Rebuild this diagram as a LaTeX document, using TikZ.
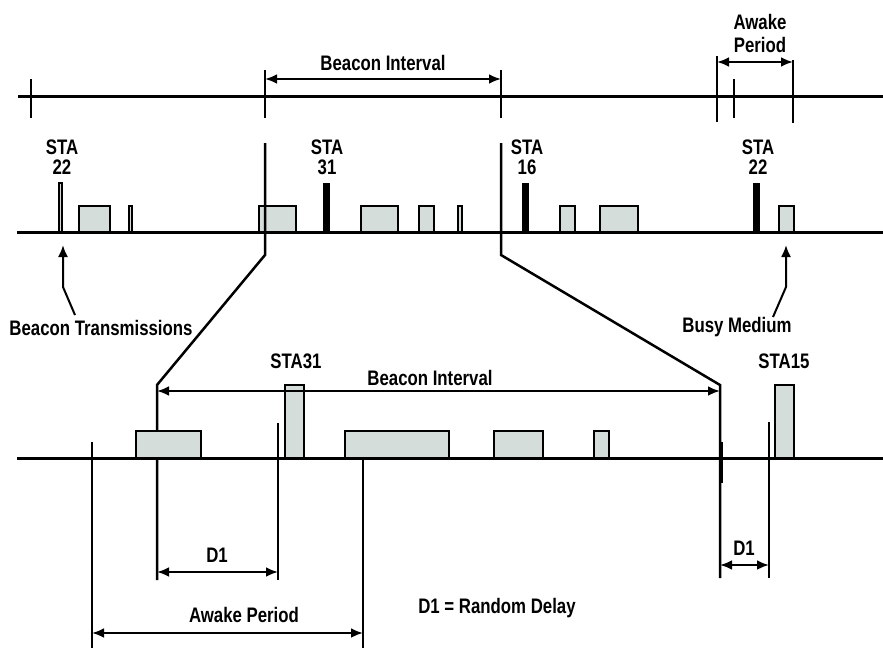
\documentclass[tikz,border=0pt]{standalone}
\usepackage{fontspec}
\setmainfont{Liberation Sans}
\usetikzlibrary{arrows.meta}
\definecolor{pktfill}{RGB}{213,221,219}

\tikzset{
  tline/.style={line width=3pt},
  vline/.style={line width=2pt},
  pkt/.style={draw, line width=2pt, fill=pktfill},
  dimline/.style={line width=2.5pt, {Latex[length=12pt,width=10pt]}-{Latex[length=12pt,width=10pt]}},
  pointer/.style={line width=2pt, -{Latex[length=12pt,width=10pt]}},
  lbl/.style={font=\fontsize{21}{20}\selectfont\bfseries, xscale=0.8, transform shape,
    inner sep=0pt, align=center},
}

\begin{document}
\begin{tikzpicture}[x=1pt, y=-1pt]
  \useasboundingbox (0,0) rectangle (883,650);

  % upper time line: beacon ticks and awake window
  \draw[tline] (18,97) -- (883,97);
  \foreach \x/\t/\b in {31/79/118, 265/70/118, 501/70/118, 717/56/122, 734/79/118, 793/60/123}
    \draw[vline] (\x,\t) -- (\x,\b);
  \coordinate (biL) at (265,79);
  \coordinate (biR) at (501,79);
  \draw[dimline] (biL) -- (biR);
  \node[lbl] (bitop) at (383,63) {Beacon Interval};
  \coordinate (awL) at (717,62);
  \coordinate (awR) at (793,62);
  \draw[dimline] (awL) -- (awR);
  \node[lbl, font=\fontsize{21}{23}\selectfont\bfseries] (awtop) at (760,33) {Awake\\Period};

  % middle row: packets on the medium
  \foreach \a/\b in {79/110, 259/296, 361/398, 419/434, 560/575, 600/638, 779/794}
    \draw[pkt] (\a,232) rectangle (\b,206);
  \foreach \a/\b/\t in {59/62/183, 129/132/206, 458/462/206}
    \draw[pkt, line width=1.2pt] (\a,232) rectangle (\b,\t);
  \foreach \a in {323, 522, 753}
    \fill (\a,232) rectangle (\a+7,183);
  \draw[tline] (17,232) -- (883,232);

  \node[lbl] (sta22a) at (62,157) {STA\\22};
  \node[lbl] (sta31a) at (327,157) {STA\\31};
  \node[lbl] (sta16a) at (527,157) {STA\\16};
  \node[lbl] (sta22b) at (758,157) {STA\\22};

  \node[lbl] (bcntx) at (101,328) {Beacon Transmissions};
  \node[lbl] (busy) at (737,327) {Busy Medium};
  \coordinate (bcntip) at (63,245);
  \coordinate (busytip) at (786,245);
  \draw[pointer] (75,315) -- (63,287) -- (bcntip);
  \draw[pointer] (773,317) -- (786,287) -- (busytip);

  % zoom lines down to the lower row
  \coordinate (zl0) at (265,143);
  \coordinate (zl1) at (265,255);
  \coordinate (zl2) at (157,385);
  \coordinate (zr0) at (501,143);
  \coordinate (zr1) at (501,255);
  \coordinate (zr2) at (720,385);
  \draw[vline, line width=2.5pt] (zl0) -- (zl1) -- (zl2) -- (157,580);
  \draw[vline, line width=2.5pt] (zr0) -- (zr1) -- (zr2) -- (720,578);
  \draw[line width=4.5pt] (721,442) -- (721,483);

  % lower row
  \foreach \a/\b in {136/201, 345/449, 494/543, 594/609}
    \draw[pkt] (\a,458) rectangle (\b,431);
  \foreach \a/\b in {285/304, 775/794}
    \draw[pkt] (\a,458) rectangle (\b,385);
  \draw[tline] (17,458) -- (883,458);
  \draw[vline] (92,442) -- (92,648);
  \draw[vline] (363,458) -- (363,648);
  \draw[vline] (278,423) -- (278,580);
  \draw[vline] (769,422) -- (769,578);

  \node[lbl] (sta31b) at (296,361) {STA31};
  \node[lbl] (sta15b) at (784,361) {STA15};
  \draw[dimline] (157,391) -- (720,391);
  \node[lbl] (bibot) at (430,378) {Beacon Interval};

  \draw[dimline] (157,572) -- (278,572);
  \node[lbl] (d1a) at (217,555) {D1};
  \draw[dimline] (720,565) -- (769,565);
  \node[lbl] (d1b) at (744,548) {D1};
  \draw[dimline] (92,633) -- (363,633);
  \node[lbl] (awbot) at (244,615) {Awake Period};
  \node[lbl] (d1key) at (497,608) {D1 = Random Delay};
\end{tikzpicture}
\end{document}
